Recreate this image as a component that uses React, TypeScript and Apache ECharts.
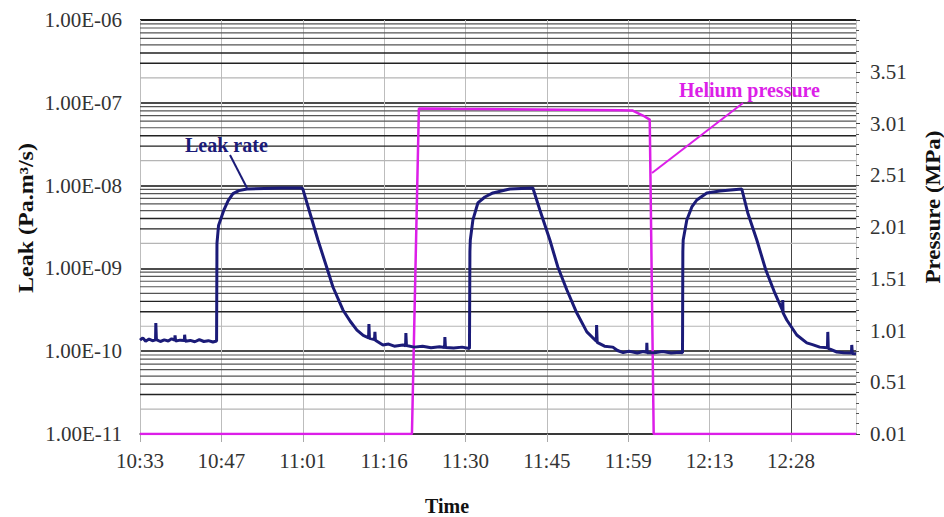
import React, { useEffect, useRef } from "react";
import * as echarts from "echarts";

// Time axis: minutes elapsed since 10:33
const startClock = 10 * 60 + 33;
const tickStepMin = 14.4;
const xMaxMin = 126.7;

// Leak rate (Pa.m3/s)
const leakTime = [
  0, 0.5, 1.0, 1.6, 2.2, 2.75, 2.8, 2.9, 3.6, 4.3, 5.0, 5.6, 6.15, 6.2, 6.3, 7.1, 7.85, 7.9, 8.0, 8.9, 9.7, 10.5, 11.3, 12.1, 12.9, 13.55,
  13.62, 13.9, 14.86, 15.6, 16.45, 17.5, 18.93, 22, 25, 28.66,
  28.83, 30.07, 31.49, 33.08, 34.14, 35.91, 37.2, 38.39, 39.5, 40.45, 40.51, 40.6, 41.5, 41.57, 41.65, 42.99, 44, 45, 46.52, 47.0, 47.05, 47.15, 48.5, 50, 51.5, 53, 53.9, 53.95, 54.05, 55.5, 57, 58.3,
  58.38, 58.45, 58.91, 59.79, 61.03, 62.44, 65.45, 69.52,
  70.76, 72.53, 73.94, 75.54, 77.3, 79.07, 80.75, 80.8, 80.9, 82.2, 83.67, 84.5, 85.5, 86.5, 87.21, 88, 89, 89.65, 89.69, 89.75, 91, 92.5, 94, 95.5, 96.0,
  96.06, 96.12, 96.76, 97.65, 98.53, 100.3, 102.6, 106.49,
  107.55, 109.15, 110.74, 112.33, 113.7, 113.74, 113.8, 114.45, 116.22, 117.99, 119, 120.29, 121.65, 121.71, 121.8, 123.3, 124.5, 125.9, 125.95, 126.05, 126.7,
];
const leakRate = [
  1.36e-10, 1.45e-10, 1.32e-10, 1.4e-10, 1.34e-10, 1.37e-10, 2.19e-10, 1.38e-10, 1.31e-10, 1.37e-10, 1.33e-10, 1.41e-10, 1.36e-10, 1.55e-10, 1.33e-10, 1.36e-10, 1.35e-10, 1.58e-10, 1.32e-10, 1.35e-10, 1.3e-10, 1.38e-10, 1.31e-10, 1.34e-10, 1.29e-10, 1.33e-10,
  2.0e-9, 3.3e-9, 5.1e-9, 6.6e-9, 8.0e-9, 8.7e-9, 9.1e-9, 9.25e-9, 9.35e-9, 9.35e-9,
  9.0e-9, 4.67e-9, 2.2e-9, 1.01e-9, 5.96e-10, 3.15e-10, 2.3e-10, 1.8e-10, 1.55e-10, 1.45e-10, 2.13e-10, 1.43e-10, 1.38e-10, 1.71e-10, 1.36e-10, 1.19e-10, 1.22e-10, 1.15e-10, 1.19e-10, 1.16e-10, 1.66e-10, 1.17e-10, 1.12e-10, 1.15e-10, 1.1e-10, 1.13e-10, 1.11e-10, 1.48e-10, 1.11e-10, 1.09e-10, 1.12e-10, 1.08e-10,
  1.6e-9, 2.2e-9, 3.85e-9, 6.17e-9, 7.28e-9, 8.15e-9, 9.1e-9, 9.35e-9,
  5.07e-9, 2.2e-9, 1.04e-9, 5.48e-10, 2.89e-10, 1.71e-10, 1.32e-10, 2.07e-10, 1.28e-10, 1.15e-10, 1.12e-10, 1.02e-10, 9.6e-11, 1.0e-10, 9.78e-11, 9.5e-11, 9.9e-11, 9.7e-11, 1.26e-10, 9.6e-11, 9.6e-11, 9.9e-11, 9.5e-11, 9.7e-11, 9.6e-11,
  1.6e-9, 2.2e-9, 3.85e-9, 5.52e-9, 6.7e-9, 8.15e-9, 8.61e-9, 9.1e-9,
  4.67e-9, 2.2e-9, 9.57e-10, 5.05e-10, 3.1e-10, 4.15e-10, 2.9e-10, 2.38e-10, 1.57e-10, 1.26e-10, 1.2e-10, 1.12e-10, 1.1e-10, 1.71e-10, 1.08e-10, 9.78e-11, 9.6e-11, 9.5e-11, 1.19e-10, 9.4e-11, 9.3e-11,
];

// Helium pressure (MPa)
const pressureTime = [0, 48.12, 49.35, 55, 65, 75, 85, 87.2, 89.0, 90.2, 90.9, 126.7];
const pressureValue = [0.01, 0.01, 3.155, 3.152, 3.148, 3.143, 3.138, 3.135, 3.087, 3.048, 0.01, 0.01];

// Axis settings
const leakMin = 1e-11;
const leakMax = 1e-6;
const pressureMin = 0.01;
const pressureMax = 4.01;
const pressureStep = 0.5;
const minorDecades = [-11, -10, -9, -8, -7];
const lightMultipliers = [2];
const darkMultipliers = [3, 4];
const midMultipliers = [5, 6, 7, 8, 9];

const NAVY = "#1b1b78";
const MAGENTA = "#dc1ee8";
const FONT = "Liberation Serif";

function clockLabel(v: number): string {
  const total = Math.floor(startClock + v + 1e-6);
  const h = Math.floor(total / 60);
  const m = total % 60;
  return `${h}:${m < 10 ? "0" + m : m}`;
}

function sciLabel(v: number): string {
  const e = Math.round(Math.log10(v));
  const a = Math.abs(e);
  return `1.00E${e < 0 ? "-" : "+"}${a < 10 ? "0" + a : a}`;
}

function minorGridData(mults: number[]): any[] {
  const out: any[] = [];
  minorDecades.forEach((e) => {
    mults.forEach((k) => {
      const v = Number((k * Math.pow(10, e)).toPrecision(3));
      out.push([0, v], [xMaxMin, v], [xMaxMin, "-"]);
    });
  });
  return out;
}

function gridSeries(mults: number[], color: string, width: number) {
  return {
    type: "line",
    xAxisIndex: 0,
    yAxisIndex: 0,
    data: minorGridData(mults),
    symbol: "none",
    showSymbol: false,
    connectNulls: false,
    silent: true,
    lineStyle: { color, width },
    emphasis: { disabled: true },
    z: 1,
  };
}

export default function App() {
  const ref = useRef<HTMLDivElement>(null);

  useEffect(() => {
    if (!ref.current) return;
    const chart = echarts.init(ref.current, null, { renderer: "svg" });

    const leakData = leakTime.map((t, i) => [t, leakRate[i]]);
    const pressureData = pressureTime.map((t, i) => [t, pressureValue[i]]);

    const xSplitColors: string[] = [];
    for (let i = 0; i < 10; i++) xSplitColors.push(i === 8 ? "#444" : "#bdbdbd");

    chart.setOption({
      animation: false,
      backgroundColor: "#fff",
      grid: { left: 140, right: 88, top: 20, bottom: 83, containLabel: false },
      xAxis: {
        type: "value",
        min: 0,
        max: xMaxMin,
        interval: tickStepMin,
        axisLine: { show: true, lineStyle: { color: "#333", width: 1.5 } },
        axisTick: { show: true, length: 8, lineStyle: { color: "#aaa" } },
        axisLabel: {
          formatter: clockLabel,
          showMaxLabel: false,
          fontFamily: FONT,
          fontSize: 21,
          color: "#333",
          margin: 16,
        },
        splitLine: { show: true, lineStyle: { color: xSplitColors, width: 1 } },
      },
      yAxis: [
        {
          type: "log",
          logBase: 10,
          min: leakMin,
          max: leakMax,
          axisLine: { show: false },
          axisTick: { show: false },
          axisLabel: {
            formatter: sciLabel,
            fontFamily: FONT,
            fontSize: 21,
            color: "#333",
            margin: 18,
          },
          splitLine: { show: true, lineStyle: { color: "#111", width: 1.5 } },
        },
        {
          type: "value",
          position: "right",
          min: pressureMin,
          max: pressureMax,
          interval: pressureStep,
          axisLine: { show: true, lineStyle: { color: "#ccc" } },
          axisTick: { show: true, length: 4, inside: false, lineStyle: { color: "#444" } },
          minorTick: { show: true, splitNumber: 5, length: 3, lineStyle: { color: "#555" } },
          axisLabel: {
            formatter: (v: number) => v.toFixed(2),
            showMaxLabel: false,
            fontFamily: FONT,
            fontSize: 21,
            color: "#333",
            margin: 14,
          },
          splitLine: { show: false },
        },
      ],
      series: [
        gridSeries(lightMultipliers, "#b5b5b5", 1.2),
        gridSeries(darkMultipliers, "#222", 1.4),
        gridSeries(midMultipliers, "#555", 1.2),
        {
          type: "line",
          name: "Helium pressure",
          xAxisIndex: 0,
          yAxisIndex: 1,
          data: pressureData,
          showSymbol: false,
          symbol: "none",
          lineStyle: { color: MAGENTA, width: 2.5 },
          z: 3,
        },
        {
          type: "line",
          name: "Leak rate",
          xAxisIndex: 0,
          yAxisIndex: 0,
          data: leakData,
          showSymbol: false,
          symbol: "none",
          lineStyle: { color: NAVY, width: 3 },
          z: 4,
        },
      ],
      graphic: [
        {
          type: "text",
          x: 185,
          y: 145,
          style: { text: "Leak rate", fill: NAVY, font: `bold 20px "${FONT}"`, textAlign: "left", verticalAlign: "middle" },
          z: 10,
        },
        {
          type: "line",
          shape: { x1: 230, y1: 155, x2: 247, y2: 188 },
          style: { stroke: NAVY, lineWidth: 2 },
          z: 10,
        },
        {
          type: "text",
          x: 679,
          y: 90,
          style: { text: "Helium pressure", fill: MAGENTA, font: `bold 20px "${FONT}"`, textAlign: "left", verticalAlign: "middle" },
          z: 10,
        },
        {
          type: "line",
          shape: { x1: 743, y1: 103, x2: 652, y2: 173 },
          style: { stroke: MAGENTA, lineWidth: 2 },
          z: 10,
        },
        {
          type: "text",
          x: 26,
          y: 218,
          rotation: Math.PI / 2,
          scaleX: 1.2,
          style: { text: "Leak (Pa.m³/s)", fill: "#111", font: `bold 20px "${FONT}"`, textAlign: "center", verticalAlign: "middle" },
        },
        {
          type: "text",
          x: 934,
          y: 207,
          rotation: Math.PI / 2,
          scaleX: 1.15,
          style: { text: "Pressure (MPa)", fill: "#111", font: `bold 20px "${FONT}"`, textAlign: "center", verticalAlign: "middle" },
        },
        {
          type: "text",
          x: 447,
          y: 506,
          style: { text: "Time", fill: "#111", font: `bold 20px "${FONT}"`, textAlign: "center", verticalAlign: "middle" },
        },
      ],
    });

    return () => {
      chart.dispose();
    };
  }, []);

  return (
    <div
      ref={ref}
      style={{ position: "fixed", left: 0, top: 0, width: 944, height: 517, background: "#fff" }}
    />
  );
}
